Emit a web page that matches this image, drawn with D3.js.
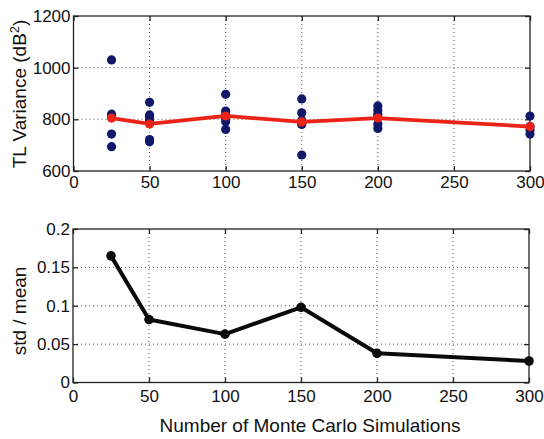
<!DOCTYPE html>
<html><head><meta charset="utf-8">
<script src="https://cdn.jsdelivr.net/npm/d3@7"></script>
<style>
html,body{margin:0;padding:0;background:#fff;}
svg{display:block;font-family:"Liberation Sans",Arial,Helvetica,sans-serif;}
</style></head>
<body><svg id="c" width="544" height="439"></svg>
<script>
// ---- data ----
const simCounts = [25, 50, 100, 150, 200, 300];
const samples25  = [1030, 820, 810, 743, 694];
const samples50  = [866, 817, 808, 795, 722, 713];
const samples100 = [897, 832, 820, 805, 791, 761];
const samples150 = [879, 825, 795, 786, 780, 662];
const samples200 = [852, 834, 820, 808, 782, 765];
const samples300 = [813, 772, 760, 743];
const meanVariance = [805, 782, 813, 790, 805, 772];
const stdOverMean = [0.165, 0.082, 0.063, 0.098, 0.038, 0.028];
const xTicks = [0, 50, 100, 150, 200, 250, 300];
const yTicksTop = [600, 800, 1000, 1200];
const yTicksBottom = [0, 0.05, 0.1, 0.15, 0.2];
const yTickLabelsBottom = ["0", "0.05", "0.1", "0.15", "0.2"];

const sampleSets = [samples25, samples50, samples100, samples150, samples200, samples300];
const scatter = [];
sampleSets.forEach((arr, i) => arr.forEach(v => scatter.push({x: simCounts[i], y: v})));

const svg = d3.select("#c");

function panel(p) {
  const g = svg.append("g");
  const x = d3.scaleLinear().domain([0, 300]).range([p.left, p.right]);
  const y = d3.scaleLinear().domain(p.ydom).range([p.bottom, p.top]);
  const grid = g.append("g").attr("stroke", "#444").attr("stroke-width", 0.9).attr("stroke-dasharray", "1,3");
  grid.selectAll(".gx").data(xTicks.slice(1, -1)).join("line")
    .attr("x1", d => x(d)).attr("x2", d => x(d)).attr("y1", p.top).attr("y2", p.bottom);
  grid.selectAll(".gy").data(p.yticks.slice(1, -1)).join("line")
    .attr("y1", d => y(d)).attr("y2", d => y(d)).attr("x1", p.left).attr("x2", p.right);
  g.append("rect").attr("x", p.left).attr("y", p.top)
    .attr("width", p.right - p.left).attr("height", p.bottom - p.top)
    .attr("fill", "none").attr("stroke", "#222").attr("stroke-width", 1.3);
  const fs = "17px";
  const ax = g.append("g").attr("transform", `translate(0,${p.bottom})`)
    .call(d3.axisBottom(x).tickValues(xTicks).tickSizeInner(-5).tickSizeOuter(0).tickPadding(p.xpad));
  const ay = g.append("g").attr("transform", `translate(${p.left},0)`)
    .call(d3.axisLeft(y).tickValues(p.yticks).tickFormat((d, i) => p.ylabels[i]).tickSizeInner(-5).tickSizeOuter(0).tickPadding(3));
  const axt = g.append("g").attr("transform", `translate(0,${p.top})`)
    .call(d3.axisTop(x).tickValues(xTicks).tickSizeInner(-5).tickSizeOuter(0).tickFormat(""));
  const ayr = g.append("g").attr("transform", `translate(${p.right},0)`)
    .call(d3.axisRight(y).tickValues(p.yticks).tickSizeInner(-5).tickSizeOuter(0).tickFormat(""));
  [ax, ay, axt, ayr].forEach(a => {
    a.select(".domain").remove();
    a.selectAll("line").attr("stroke", "#222").attr("stroke-width", 1.3);
    a.selectAll("text").attr("font-size", fs).attr("fill", "#111").attr("font-family", "Liberation Sans, Arial, sans-serif");
  });
  return {g, x, y};
}

// top panel
const topP = panel({left: 73.5, right: 530, top: 16, bottom: 171, ydom: [600, 1200],
  yticks: yTicksTop, ylabels: yTicksTop.map(String), xpad: 5});
topP.g.append("g").selectAll("circle").data(scatter).join("circle")
  .attr("cx", d => topP.x(d.x)).attr("cy", d => topP.y(d.y)).attr("r", 4.6).attr("fill", "#10186a");
const meanData = simCounts.map((c, i) => [c, meanVariance[i]]);
topP.g.append("path").datum(meanData)
  .attr("fill", "none").attr("stroke", "#ec2418").attr("stroke-width", 3.8).attr("stroke-linejoin", "round")
  .attr("d", d3.line().x(d => topP.x(d[0])).y(d => topP.y(d[1])));
topP.g.append("g").selectAll("circle").data(meanData).join("circle")
  .attr("cx", d => topP.x(d[0])).attr("cy", d => topP.y(d[1])).attr("r", 4.6).attr("fill", "#ec2418");

// bottom panel
const botP = panel({left: 73, right: 529, top: 229, bottom: 382.5, ydom: [0, 0.2],
  yticks: yTicksBottom, ylabels: yTickLabelsBottom, xpad: 7});
const botData = simCounts.map((c, i) => [c, stdOverMean[i]]);
botP.g.append("path").datum(botData)
  .attr("fill", "none").attr("stroke", "#0a0a0a").attr("stroke-width", 4).attr("stroke-linejoin", "round")
  .attr("d", d3.line().x(d => botP.x(d[0])).y(d => botP.y(d[1])));
botP.g.append("g").selectAll("circle").data(botData).join("circle")
  .attr("cx", d => botP.x(d[0])).attr("cy", d => botP.y(d[1])).attr("r", 4.8).attr("fill", "#0a0a0a");

// titles
const t1 = svg.append("text").attr("transform", "translate(26,94) rotate(-90)")
  .attr("text-anchor", "middle").attr("font-size", "19px").attr("fill", "#111");
t1.append("tspan").text("TL Variance (dB");
t1.append("tspan").attr("font-size", "13px").attr("dy", "-7").text("2");
t1.append("tspan").attr("dy", "7").text(")");
svg.append("text").attr("transform", "translate(26,311) rotate(-90)")
  .attr("text-anchor", "middle").attr("font-size", "19px").attr("fill", "#111").text("std / mean");
svg.append("text").attr("x", 310).attr("y", 432)
  .attr("text-anchor", "middle").attr("font-size", "19px").attr("fill", "#111").text("Number of Monte Carlo Simulations");
</script></body></html>
